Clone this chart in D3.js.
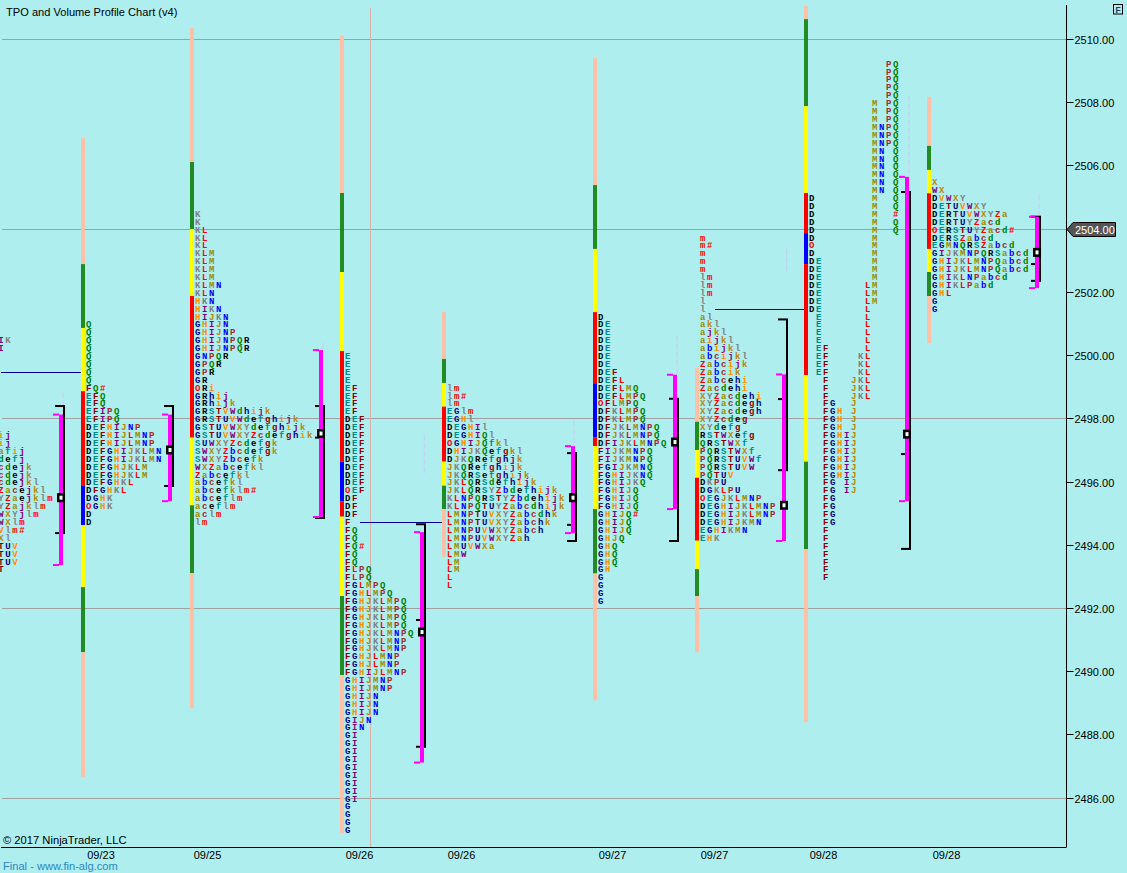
<!DOCTYPE html>
<html lang="en">
<head>
<meta charset="UTF-8">
<title>TPO and Volume Profile Chart (v4)</title>
<script src="https://d3js.org/d3.v7.min.js"></script>
<style>
  html, body { margin: 0; padding: 0; background: #afeeee; overflow: hidden; }
  svg { display: block; }
  text { font-family: "Liberation Sans", Arial, sans-serif; }
  .tpo text { font-family: "Liberation Mono", "DejaVu Sans Mono", monospace; font-size: 9px; font-weight: bold; }
</style>
</head>
<body>
<svg id="chart"></svg>
<script>
// price grid and tick labels
const priceTicks = [2486, 2488, 2490, 2492, 2494, 2496, 2498, 2500, 2502, 2504, 2506, 2508, 2510];
const gridPrices = [2486, 2492, 2498, 2504, 2510];
const lastPrice = 2504;
const dateLabels = ["09/23", "09/25", "09/26", "09/26", "09/27", "09/27", "09/28", "09/28"];
const dateBars = [10.05, 20.7, 35.9, 46.1, 61.2, 71.4, 82.3, 94.6];

// bar number of each session (first one starts off the chart)
const sessionBars = [-0.47, 8.3, 19.2, 34.2, 44.4, 59.5, 69.7, 80.6, 92.9];
const sessionTop = [2500.5, 2501, 2504.5, 2500, 2499, 2501.25, 2503.75, 2509.25, 2505.5];

// TPO letters, one string per quarter point going down
const tpo0 = ["IK", "I", "", "", "", "", "", "", "", "", "", "", "ij", "ij", "afij", "defj", "cdejk", "cdejk", "cdejkl",
  "Zacejkl", "YZaejklm", "YZajklm", "WXYjlm", "WXlm", "Vlm#", "Xl", "TUV", "TUV", "TUV", "T"];
const tpo1 = ["Q", "Q", "Q", "Q", "Q", "Q", "Q", "Q", "FQ#", "EFQ", "EFQ", "EFIPQ", "EFIPQ", "DEFHIJNP", "DEFHIJLMNP", "DEFHIJLMNP",
  "DEFGHIJKLMN", "DEFGHIJKLMN", "DEFGHJKLM", "DEFGHJKLM", "DEFGHKL", "DFGHKL", "DGHK", "OGHK", "D", "D"];
const tpo2 = ["K", "K", "KL", "KL", "KL", "KLM", "KLM", "KLM", "KLM", "KLMN", "KLN", "HKN", "HIKN", "HIJKN", "GHIJN", "GHIJNP",
  "GHIJNPQR", "GHIJNPQR", "GNPQR", "GPQR", "GPR", "GR", "ORi", "GRhij", "GRhijk", "GRSTVWdhijk", "GRSTUVWdefghijk",
  "GSTUVWXYdefghijk", "GSTUVWXYZcdefghik", "SUWXYZcdefgk", "SWXYZbcdefgk", "SWXYZbcefk", "WXZabcefkl", "Zabcefkl",
  "abcefkl", "abcefklm#", "abceflm", "aceflm", "aclm", "lm"];
const tpo3 = ["E", "E", "E", "E", "EF", "EF", "EF", "EF", "DEF", "DEF", "DEF", "DEF", "DEF", "DEF", "DEF", "DEF", "DEF", "OEF",
  "DF", "DF", "DF", "F", "FQ", "FQ", "FQ#", "FQ", "FQ", "FLPQ", "FLPQ", "FGLMPQ", "FGHLMPQ", "FGHJKLMPQ", "FGHJKLMPQ", "FGHJKLMPQ",
  "FGHJKLMPQ", "FGHJKLMNPQ", "FGHJKLMNP", "FGHJKLMNP", "FGHJLMNP", "FGHJLMNP", "FGHIJLMNP", "GHIJMNP", "GHIJMNP", "GHIJN", "GHIJN",
  "GHIJN", "GIJN", "GIN", "GI", "GI", "GI", "GI", "GI", "GI", "GI", "GI", "GI", "G", "G", "G", "G"];
const tpo4 = ["lm", "lm#", "lm", "EGlm", "EGHl", "DEGHIl", "DEGHIQl", "OGHIJQfkl", "DHIJKQefgkl", "DJKQRefghjk", "JKQRefghijk",
  "JKQRSefghijk", "JKLQRSdefhijk", "JKLQRSYZbdefhijk", "KLNPQRSTYZbdehijk", "KLNPQTUYZabcdhijk", "LMNPTUVXYZabcdhk", "LMNPTUVXYZabchk",
  "LMNPUVWXYZabch", "LMNPUVWXYZah", "LMUVWXa", "LMW", "LM", "LM", "L", "L"];
const tpo5 = ["D", "DE", "DE", "DE", "DE", "DE", "DE", "DEF", "DEFL", "DEFLMQ", "DEFLMPQ", "OFLMPQ", "DFKLMPQ", "DFKLMPQ", "DFJKLMNPQ",
  "DFJKLMNPQ", "DFIJKLMNPQ", "FIJKMNPQ", "FIJKMNPQ", "FGIJKMNQ", "FGHIJKNQ", "FGHIJKQ", "FGHIJQ", "FGHIJQ", "FGHIJQ", "GHIJQ#", "GHIJQ",
  "GHIJQ", "GHJQ", "GHQ", "GHQ", "GHQ", "GH", "G", "G", "G", "G"];
const tpo6 = ["m", "m#", "m", "m", "m", "lm", "lm", "lm", "l", "l", "al", "akl", "ajkl", "aijkl", "abijkl", "abcijkl", "Zabcijk", "Zabcik",
  "Zabcehi", "Zacdehi", "XYZacdehi", "XYZacdegh", "XYZacdegh", "XYZcdeg", "XYdefg", "RSTWXefg", "QRSTWXf", "PQRSTWXf", "PQRSTUVWf",
  "PQRSTUVW", "PQTUV", "DKPU", "DGKLPU", "OEGJKLMNP", "DEGHIJKLMNP", "DEGHIJKLMNP", "DEGHIJKMN", "EGHIKMN", "EHK"];
const tpo7 = ["           PQ", "           PQ", "           PQ", "           PQ", "           PQ",
  "         M PQ", "         M PQ", "         M PQ", "         MNPQ", "         MNPQ", "         MNPQ",
  "         MN Q", "         MN Q", "         MN Q", "         MN Q", "         MN Q", "         MN Q",
  "D        M  Q", "D        M  Q", "D        M  #", "D        M  Q", "D        M  Q",
  "D        M", "O        M", "D        M", "DE       M", "DE       M", "DE       M",
  "DE      LM", "DE      LM", "DE      LM", "DE      L", " E      L", " E      L", " E      L", " E      L",
  " EF     L", " EF    KL", " EF    KL", " EF    KL", "  F   JKL", "  F   JKL", "  F   JKL",
  "  FG  J", "  FGH J", "  FGH J", "  FGH J", "  FGHIJ", "  FGHIJ", "  FGHIJ", "  FGHIJ", "  FGHIJ", "  FGHIJ",
  "  FG IJ", "  FG IJ", "  FG", "  FG", "  FG", "  FG", "  F", "  F", "  F", "  F", "  F", "  F", "  F"];
const tpo8 = ["X", "WX", "DVWXY", "DETUVWXY", "DERTUVWXYZa", "DERTUYZacd", "OERSTUYZacd#", "DERSZabcd", "EGMNQRSZabcd", "GIJKMNPQRSabcd",
  "GHIJKLMNPQabcd", "GHIJKLMNPQabcd", "GHIKLNPabcd", "GHIKLPabd", "GHL", "G", "G"];
const tpoRows = [tpo0, tpo1, tpo2, tpo3, tpo4, tpo5, tpo6, tpo7, tpo8];

// range bar: price edges from the top, colours follow
const barEdges = [
  [],
  [2506.9, 2502.91, 2500.89, 2498.89, 2495.89, 2494.65, 2492.69, 2490.63, 2486.68],
  [2510.38, 2506.14, 2504.02, 2501.9, 2497.42, 2495.28, 2493.13, 2488.86],
  [2510.13, 2505.16, 2502.66, 2500.16, 2496.66, 2495.41, 2494.92, 2492.41, 2489.91, 2484.91],
  [2501.39, 2499.91, 2499.15, 2498.4, 2496.66, 2495.9, 2495.16, 2493.65],
  [2509.43, 2505.41, 2503.39, 2501.39, 2499.14, 2497.42, 2497.15, 2495.16, 2493.12, 2489.11],
  [2499.64, 2497.92, 2497.03, 2496.15, 2494.16, 2493.26, 2492.41, 2490.63],
  [2511.08, 2510.66, 2507.91, 2505.16, 2503.89, 2502.91, 2499.4, 2496.66, 2493.89, 2488.42],
  [2508.2, 2506.65, 2505.89, 2505.15, 2503.39, 2502.66, 2501.9, 2500.41]
];
const barKinds = [
  [],
  ["peach", "green", "yellow", "red", "blue", "yellow", "green", "peach"],
  ["peach", "green", "yellow", "red", "yellow", "green", "peach"],
  ["peach", "green", "yellow", "red", "blue", "red", "yellow", "green", "peach"],
  ["peach", "green", "yellow", "red", "yellow", "green", "peach"],
  ["peach", "green", "yellow", "red", "blue", "red", "yellow", "green", "peach"],
  ["peach", "green", "yellow", "red", "yellow", "green", "peach"],
  ["peach", "green", "yellow", "red", "blue", "red", "yellow", "green", "peach"],
  ["peach", "green", "yellow", "red", "yellow", "green", "peach"]
];

// volume profile brackets
const vpBars = [5.9, 16.8, 31.9, 42.0, 57.1, 67.3, 78.2, 90.5, 103.5];
const vpMagentaTop = [2498.15, 2498.15, 2500.19, 2494.43, 2497.15, 2499.41, 2499.42, 2505.67, 2504.41];
const vpMagentaBot = [2493.39, 2495.41, 2494.91, 2487.14, 2494.4, 2495.16, 2494.15, 2495.41, 2502.15];
const vpBlackTop = [2498.42, 2498.42, 2498.42, 2494.68, 2496.93, 2498.65, 2501.16, 2505.19, 2504.41];
const vpBlackBot = [2494.4, 2495.89, 2494.88, 2487.64, 2494.15, 2494.15, 2496.39, 2493.9, 2502.38];
const vpPoc = [2495.52, 2497.03, 2497.55, 2491.27, 2495.52, 2497.28, 2495.28, 2497.53, 2503.28];
const vpTick = [null, null, 2497.42, 2491.65, 2494.66, null, 2498.64, 2496.9, 2502.91];

// naked POC lines: price, from bar, to bar
const nakedPrice = [2499.5, 2494.75, 2501.5];
const nakedFrom = [0.1, 36.0, 71.5];
const nakedTo = [8.3, 44.4, 80.6];

// faint wicks over the brackets
const wickBars = [6.3, 32.3, 42.43, 57.4, 67.7, 78.67, 90.9, 103.9];
const wickHigh = [2498.85, 2500.42, 2497.5, 2497.95, 2500.65, 2503.4, 2508.25, 2505.1];
const wickLow = [2498.42, 2500.19, 2496.28, 2497.15, 2499.42, 2502.65, 2505.67, 2504.41];

const width = 1127, height = 873;
const plotW = 1066, plotH = 847;

const y = d3.scaleLinear().domain([2510, 2486]).range([40, 798.6]);
const x = d3.scaleLinear().domain([0, 106.6]).range([0, plotW]);
const snap = p => Math.round(y(p)) - 0.5;

const letters = "DEFGHIJKLMNPQRSTUVWXYZabcdefghijklm".split("");
const letterColor = d3.scaleOrdinal()
  .domain(letters)
  .range(["#000000", "#008b8b", "#8b0000", "#00008b", "#ff8c00", "#800080", "#b8860b", "#808080", "#ff0000", "#9a8c00", "#0000ff", "#a52a2a", "#008000"]);
const kindColor = { peach: "#ffc0a8", green: "#228b22", yellow: "#ffff00", red: "#ff0000", blue: "#0000ff" };

const svg = d3.select("#chart").attr("width", width).attr("height", height);

// grid
svg.append("g").selectAll("line").data(gridPrices).join("line")
  .attr("x1", 2).attr("x2", plotW)
  .attr("y1", snap).attr("y2", snap)
  .attr("stroke", "#a0a0a0");

// session break
svg.append("line").attr("x1", 370.5).attr("x2", 370.5).attr("y1", 8).attr("y2", plotH)
  .attr("stroke", "#d9b0aa");

// naked POC
svg.append("g").selectAll("line").data(nakedPrice).join("line")
  .attr("x1", (d, i) => x(nakedFrom[i])).attr("x2", (d, i) => x(nakedTo[i]))
  .attr("y1", d => snap(d) + 1).attr("y2", d => snap(d) + 1)
  .attr("stroke", "#00008b");

// faint wicks
svg.append("g").selectAll("line").data(wickBars).join("line")
  .attr("x1", d => x(d)).attr("x2", d => x(d))
  .attr("y1", (d, i) => y(wickHigh[i])).attr("y2", (d, i) => y(wickLow[i]))
  .attr("stroke", "#c4cdf2").attr("stroke-dasharray", "6 2");

// range bars
sessionBars.forEach((bar, s) => {
  const edges = barEdges[s];
  svg.append("g").selectAll("rect").data(barKinds[s]).join("rect")
    .attr("x", x(bar) - 2).attr("width", 4)
    .attr("y", (d, i) => y(edges[i]))
    .attr("height", (d, i) => y(edges[i + 1]) - y(edges[i]))
    .attr("fill", d => kindColor[d]);
});

// TPO letters
sessionBars.forEach((bar, s) => {
  const g = svg.append("g").attr("class", "tpo");
  tpoRows[s].forEach((row, r) => {
    const price = sessionTop[s] - r * 0.25;
    g.selectAll(null).data(row.split("").map((c, i) => ({ c, i })).filter(d => d.c !== " ")).join("text")
      .attr("x", d => x(bar) + 5.7 + d.i * 7)
      .attr("y", y(price))
      .attr("dy", "0.33em")
      .attr("text-anchor", "middle")
      .attr("fill", d => (d.c === "O" || d.c === "#") ? "#ff0000" : letterColor(d.c))
      .text(d => d.c);
  });
});

// volume profile brackets
vpBars.forEach((bar, s) => {
  const left = x(bar);
  const g = svg.append("g");
  // black one first, magenta goes over its caps
  g.append("rect").attr("x", left + 4).attr("width", 2).attr("y", y(vpBlackTop[s])).attr("height", y(vpBlackBot[s]) - y(vpBlackTop[s])).attr("fill", "#000");
  [vpBlackTop[s], vpBlackBot[s], vpTick[s]].forEach(p => {
    if (p === null) return;
    g.append("rect").attr("x", left - 4).attr("width", 10).attr("y", y(p) - 1).attr("height", 2).attr("fill", "#000");
  });
  g.append("rect").attr("x", left).attr("width", 4).attr("y", y(vpMagentaTop[s])).attr("height", y(vpMagentaBot[s]) - y(vpMagentaTop[s])).attr("fill", "#ff00ff");
  [vpMagentaTop[s], vpMagentaBot[s]].forEach(p => {
    g.append("rect").attr("x", left - 6).attr("width", 6).attr("y", y(p) - 1).attr("height", 2).attr("fill", "#ff00ff");
  });
  g.append("rect").attr("x", left - 0.75).attr("y", y(vpPoc[s]) - 3.25).attr("width", 5.5).attr("height", 6.5)
    .attr("fill", "#f4ffff").attr("stroke", "#000").attr("stroke-width", 2.5);
});

// right price axis
const yAxis = svg.append("g").attr("transform", `translate(${plotW + 0.5},0)`)
  .call(d3.axisRight(y).tickValues(priceTicks).tickFormat(d3.format(".2f")).tickSize(7).tickPadding(1).tickSizeOuter(0));
yAxis.select(".domain").remove();
yAxis.selectAll(".tick").attr("transform", d => `translate(0,${snap(d)})`);
yAxis.selectAll("text").attr("y", 1).attr("fill", "#000").style("font-size", "11px").style("font-family", '"Liberation Sans", Arial, sans-serif');
svg.append("line").attr("x1", plotW + 0.5).attr("x2", plotW + 0.5).attr("y1", 5).attr("y2", plotH + 0.5).attr("stroke", "#000");

// bottom date axis
const xAxis = svg.append("g").attr("transform", `translate(0,${plotH + 0.5})`)
  .call(d3.axisBottom(x).tickValues(dateBars).tickFormat((d, i) => dateLabels[i]).tickSize(0).tickPadding(4).tickSizeOuter(0));
xAxis.select(".domain").remove();
xAxis.selectAll("text").attr("fill", "#000").style("font-size", "11px").style("font-family", '"Liberation Sans", Arial, sans-serif');
svg.append("line").attr("x1", 1).attr("x2", plotW).attr("y1", plotH + 0.5).attr("y2", plotH + 0.5).attr("stroke", "#000");

// last price marker
const tagY = snap(lastPrice);
svg.append("path")
  .attr("d", `M${plotW + 1},${tagY} L${plotW + 7},${tagY - 7} H1115.5 V${tagY + 7} H${plotW + 7} Z`)
  .attr("fill", "#555555").attr("stroke", "#000");
svg.append("text").attr("x", 1075).attr("y", tagY + 4.5).attr("fill", "#fff").style("font-size", "11px").text(d3.format(".2f")(lastPrice));

// texts
svg.append("text").attr("x", 6).attr("y", 16).attr("fill", "#000").style("font-size", "11.1px").text("TPO and Volume Profile Chart (v4)");
svg.append("text").attr("x", 3).attr("y", 844).attr("fill", "#000").style("font-size", "11.2px").text("© 2017 NinjaTrader, LLC");
svg.append("text").attr("x", 3).attr("y", 870).attr("fill", "#2e86c1").style("font-size", "11.1px").text("Final - www.fin-alg.com");

// F button
svg.append("rect").attr("x", 1113.5).attr("y", 4.5).attr("width", 9).attr("height", 9.5).attr("fill", "none").attr("stroke", "#000");
svg.append("text").attr("x", 1118).attr("y", 12.5).attr("text-anchor", "middle").attr("fill", "#1a3a60").style("font-size", "8.5px").style("font-weight", "bold").text("F");
</script>
</body>
</html>
